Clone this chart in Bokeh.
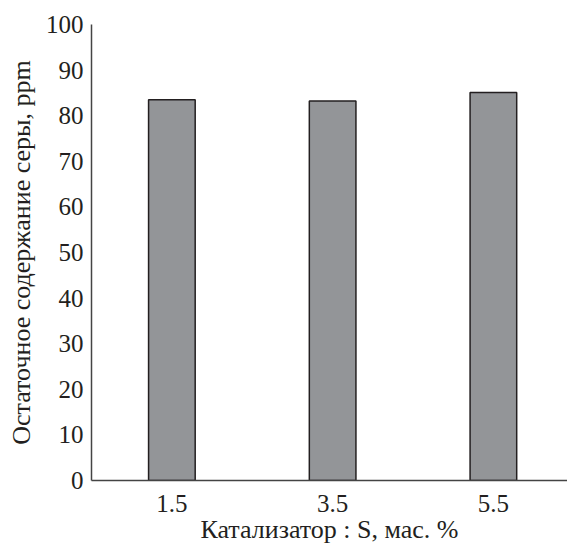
from bokeh.plotting import figure
from bokeh.models import Range1d, FixedTicker, ColumnDataSource
from bokeh.embed import file_html
from bokeh.resources import INLINE

categories = ["1.5", "3.5", "5.5"]
sulfur = [83.5, 83.2, 85.1]
y_ticks = [0, 10, 20, 30, 40, 50, 60, 70, 80, 90, 100]

xs = list(range(1, len(categories) + 1))
src = ColumnDataSource(dict(x=xs, top=sulfur))

p = figure(frame_width=476, frame_height=456, output_backend="svg", toolbar_location=None,
           x_range=Range1d(0.5, 3.461), y_range=Range1d(0, 100),
           min_border_left=91, min_border_right=0, min_border_top=24, min_border_bottom=64)
p.vbar(x="x", top="top", width=0.29, source=src, fill_color="#939598",
       line_color="#231f20", line_width=1.5)

p.grid.visible = False
p.outline_line_color = None
p.background_fill_color = "white"

font = "Liberation Serif"
tc = "#231f20"

p.yaxis.ticker = FixedTicker(ticks=y_ticks)
p.yaxis.major_tick_in = 8
p.yaxis.major_tick_out = 0
p.yaxis.minor_tick_line_color = None
p.yaxis.major_label_standoff = 8
p.yaxis.axis_label = "Остаточное содержание серы, ppm"
p.yaxis.axis_label_standoff = 7

p.xaxis.ticker = FixedTicker(ticks=xs)
p.xaxis.major_label_overrides = {x: c for x, c in zip(xs, categories)}
p.xaxis.major_tick_line_color = None
p.xaxis.minor_tick_line_color = None
p.xaxis.major_label_standoff = 8
p.xaxis.axis_label = "Катализатор : S, мас. %"
p.xaxis.axis_label_standoff = 0

for ax in (p.xaxis, p.yaxis):
    ax.axis_line_color = "#444444"
    ax.axis_line_width = 1.5
    ax.major_tick_line_color = "#444444" if ax is p.yaxis else None
    ax.major_tick_line_width = 1.5
    ax.major_label_text_font = font
    ax.major_label_text_font_size = "25px"
    ax.major_label_text_color = tc
    ax.axis_label_text_font = font
    ax.axis_label_text_font_style = "normal"
    ax.axis_label_text_color = tc

p.xaxis.axis_label_text_font_size = "26px"
p.yaxis.axis_label_text_font_size = "26px"

open("out.html", "w").write(file_html(p, INLINE))
